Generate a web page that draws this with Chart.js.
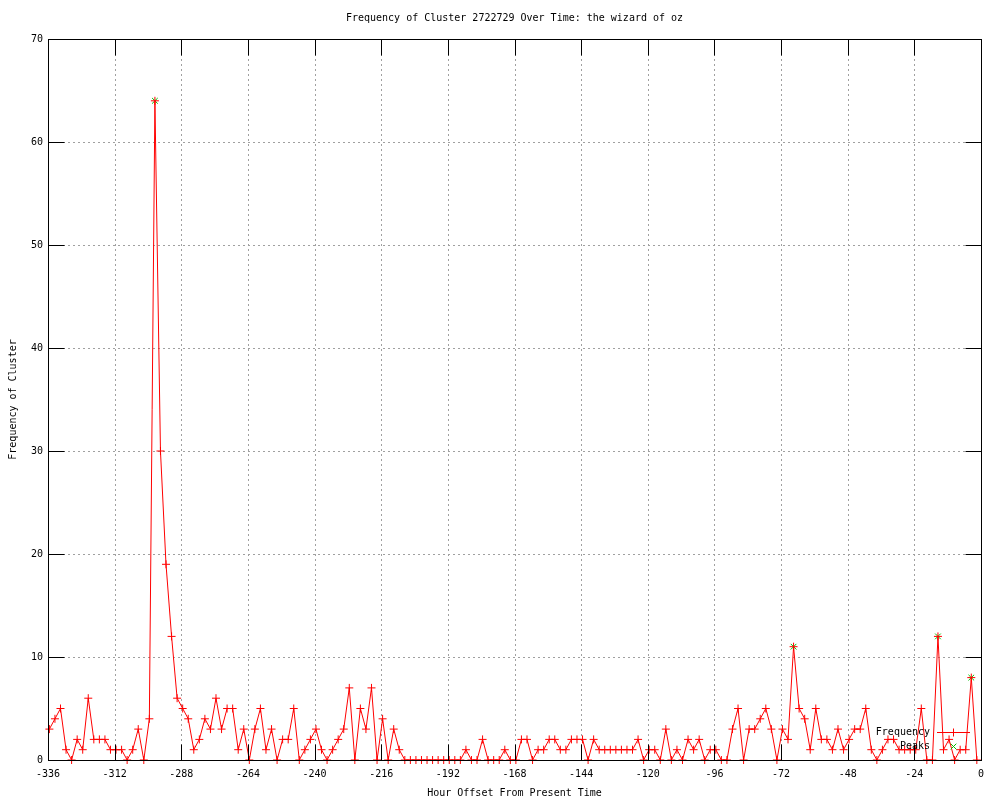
<!DOCTYPE html>
<html><head><meta charset="utf-8">
<script src="https://cdn.jsdelivr.net/npm/chart.js@4"></script>
<style>html,body{margin:0;padding:0;background:#fff}#wrap{width:1000px;height:800px}</style>
</head><body><div id="wrap"><canvas id="c" width="1000" height="800"></canvas></div>
<script>
const titleText = 'Frequency of Cluster 2722729 Over Time: the wizard of oz';
const xTitle = 'Hour Offset From Present Time';
const yTitle = 'Frequency of Cluster';
const xTicks = [-336,-312,-288,-264,-240,-216,-192,-168,-144,-120,-96,-72,-48,-24,0];
const yTicks = [0,10,20,30,40,50,60,70];
const hourStart = -335.5;
const hourStep = 2;
const frequency = [
  3,4,5,1,0,2,1,6,2,2,2,1,1,1,0,1,3,0,4,64,30,19,12,6,5,4,1,2,
  4,3,6,3,5,5,1,3,0,3,5,1,3,0,2,2,5,0,1,2,3,1,0,1,2,3,7,
  0,5,3,7,0,4,0,3,1,0,0,0,0,0,0,0,0,0,0,0,1,0,0,2,0,0,0,
  1,0,0,2,2,0,1,1,2,2,1,1,2,2,2,0,2,1,1,1,1,1,1,1,2,0,1,
  1,0,3,0,1,0,2,1,2,0,1,1,0,0,3,5,0,3,3,4,5,3,0,3,2,11,5,
  4,1,5,2,2,1,3,1,2,3,3,5,1,0,1,2,2,1,1,1,1,5,0,0,12,1,2,0,1,1,8,0
];
const peakHours = [-297.5, -67.5, -15.5, -3.5];
const peakValues = [64, 11, 12, 8];
const seriesNames = ['Frequency', 'Peaks'];

const hours = frequency.map((_, i) => hourStart + hourStep * i);
const FONT = 'DejaVu Sans Mono';
const RED = '#ff0000', GREEN = '#00c000', GRID = '#a0a0a0';

const framePlugin = {
  id: 'frame',
  beforeDatasetsDraw(chart) {
    const {ctx, chartArea: a, scales: {x, y}} = chart;
    ctx.save();
    ctx.strokeStyle = GRID; ctx.lineWidth = 1; ctx.setLineDash([2, 3]);
    xTicks.forEach(v => {
      if (v === xTicks[0] || v === xTicks[xTicks.length - 1]) return;
      const px = Math.round(x.getPixelForValue(v)) + 0.5;
      ctx.beginPath(); ctx.moveTo(px, a.top); ctx.lineTo(px, a.bottom); ctx.stroke();
    });
    yTicks.forEach(v => {
      if (v === yTicks[0] || v === yTicks[yTicks.length - 1]) return;
      const py = Math.round(y.getPixelForValue(v)) + 0.5;
      ctx.beginPath(); ctx.moveTo(a.left, py); ctx.lineTo(a.right, py); ctx.stroke();
    });
    ctx.restore();
  },
  afterDatasetsDraw(chart) {
    const {ctx, chartArea: a, scales: {x, y}} = chart;
    const L = Math.round(a.left) + 0.5, R = Math.round(a.right) + 0.5;
    const T = Math.round(a.top) + 0.5, B = Math.round(a.bottom) + 0.5;
    ctx.save();
    ctx.strokeStyle = '#000'; ctx.lineWidth = 1; ctx.setLineDash([]);
    ctx.strokeRect(L, T, R - L, B - T);
    const tl = 16;
    ctx.beginPath();
    xTicks.forEach(v => {
      const px = Math.round(x.getPixelForValue(v)) + 0.5;
      ctx.moveTo(px, B); ctx.lineTo(px, B - tl);
      ctx.moveTo(px, T); ctx.lineTo(px, T + tl);
    });
    yTicks.forEach(v => {
      const py = Math.round(y.getPixelForValue(v)) + 0.5;
      ctx.moveTo(L, py); ctx.lineTo(L + tl, py);
      ctx.moveTo(R, py); ctx.lineTo(R - tl, py);
    });
    ctx.stroke();
    // legend (gnuplot style, bottom right inside plot)
    ctx.font = '10px "' + FONT + '"';
    ctx.fillStyle = '#000'; ctx.textAlign = 'right'; ctx.textBaseline = 'middle';
    const tx = 930, y1 = 732, y2 = 746, sx0 = 937, sx1 = 970, sm = 953;
    ctx.fillText(seriesNames[0], tx, y1);
    ctx.fillText(seriesNames[1], tx, y2);
    ctx.strokeStyle = RED;
    ctx.beginPath(); ctx.moveTo(sx0, y1 + 0.5); ctx.lineTo(sx1, y1 + 0.5); ctx.stroke();
    Chart.helpers.drawPoint(ctx, {pointStyle: 'cross', radius: 4, borderWidth: 1}, sm + 0.5, y1 + 0.5);
    ctx.strokeStyle = GREEN;
    Chart.helpers.drawPoint(ctx, {pointStyle: 'crossRot', radius: 4, borderWidth: 1}, sm + 0.5, y2 + 0.5);
    ctx.restore();
  }
};

new Chart(document.getElementById('c'), {
  type: 'line',
  data: {
    datasets: [
      {
        label: seriesNames[0],
        data: hours.map((h, i) => ({x: h, y: frequency[i]})),
        borderColor: RED, backgroundColor: RED, borderWidth: 1,
        pointStyle: 'cross', pointRadius: 4, pointBorderWidth: 1,
        pointBorderColor: RED, tension: 0, clip: false, order: 0, fill: false
      },
      {
        label: seriesNames[1],
        data: peakHours.map((h, i) => ({x: h, y: peakValues[i]})),
        showLine: false, borderColor: GREEN, backgroundColor: GREEN,
        pointStyle: 'crossRot', pointRadius: 4, pointBorderWidth: 1,
        pointBorderColor: GREEN, clip: false, order: 1
      }
    ]
  },
  options: {
    responsive: false, animation: false, devicePixelRatio: 1,
    layout: {padding: {left: 0, right: 19, top: 0, bottom: 0}},
    plugins: {
      legend: {display: false}, tooltip: {enabled: false},
      title: {
        display: true, text: titleText, fullSize: false, color: '#000',
        font: {family: FONT, size: 10, weight: 'normal', lineHeight: 1.2},
        padding: {top: 12, bottom: 15}
      }
    },
    scales: {
      x: {
        type: 'linear', min: -336, max: 0,
        afterBuildTicks: s => { s.ticks = xTicks.map(v => ({value: v})); },
        afterFit: s => { s.height = 40; },
        grid: {display: false, drawTicks: false}, border: {display: false},
        ticks: {color: '#000', font: {family: FONT, size: 10}, padding: 8, maxRotation: 0, autoSkip: false},
        title: {display: true, text: xTitle, color: '#000', font: {family: FONT, size: 10}, padding: {top: 1, bottom: 1}}
      },
      y: {
        type: 'linear', min: 0, max: 70,
        afterBuildTicks: s => { s.ticks = yTicks.map(v => ({value: v})); },
        afterFit: s => { s.width = 48; },
        grid: {display: false, drawTicks: false}, border: {display: false},
        ticks: {color: '#000', font: {family: FONT, size: 10}, padding: 5},
        title: {display: true, text: yTitle, color: '#000', font: {family: FONT, size: 10}, padding: {top: 7, bottom: 7}}
      }
    }
  },
  plugins: [framePlugin]
});
</script>
</body></html>
